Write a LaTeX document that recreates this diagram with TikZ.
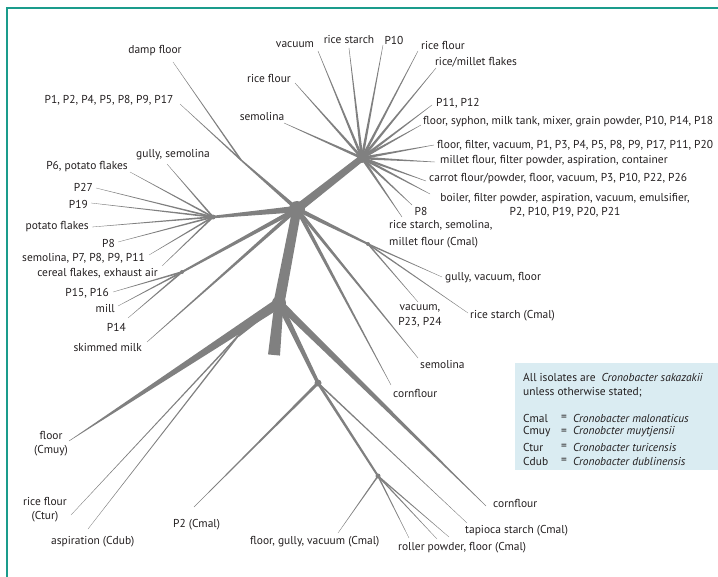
\documentclass[tikz,border=0pt]{standalone}
\usepackage{fontspec}
\setmainfont{PT Sans}
\usetikzlibrary{calc}

\definecolor{framegreen}{HTML}{1A9C8C}
\definecolor{branchgray}{HTML}{808080}
\definecolor{legendbg}{HTML}{DAECF2}
\definecolor{inkblack}{HTML}{231F20}

% tapered branch: from #1 (width #3) to #2 (width #4), widths in bp
\newcommand{\taper}[4]{%
  \fill[branchgray] ($(#1)!#3*0.5bp!90:(#2)$) -- ($(#2)!#4*0.5bp!-90:(#1)$)
    -- ($(#2)!#4*0.5bp!90:(#1)$) -- ($(#1)!#3*0.5bp!-90:(#2)$) -- cycle;}
% junction blob
\newcommand{\blob}[2]{\fill[branchgray] (#1) circle (#2bp);}

\tikzset{
  lab/.style={font=\fontsize{11.5}{14}\selectfont, text=inkblack, inner sep=0pt},
  legendline/.style={lab, anchor=west},
}

\begin{document}
\begin{tikzpicture}[x=1bp, y=-1bp]
\useasboundingbox (0,0) rectangle (718,577);

% frame
\draw[framegreen, line width=2bp] (7,577) -- (7,8) -- (718,8);

% legend panel
\fill[legendbg] (515,363) rectangle (718,470);

% ---------- junctions ----------
\coordinate (J2) at (297,209);
\coordinate (J3) at (362,158);
\coordinate (J4) at (213,217);
\coordinate (J5) at (182,272);
\coordinate (Fd) at (241,160);
\coordinate (J6) at (368,244);
\coordinate (J1) at (279,303);
\coordinate (stub) at (274,355);
\coordinate (J7) at (318,383);
\coordinate (J8) at (378,476);
\coordinate (J9) at (238,336);

% ---------- branch tips ----------
\coordinate (t3a) at (284,123);
\coordinate (t3b) at (295,83);
\coordinate (t3c) at (318,51);
\coordinate (t3d) at (349,48);
\coordinate (t3e) at (383,45);
\coordinate (t3f) at (418,51);
\coordinate (t3g) at (436,68);
\coordinate (t3h) at (432,105);
\coordinate (t3i) at (421,125);
\coordinate (t3j) at (434,145);
\coordinate (t3k) at (435,162);
\coordinate (t3l) at (426,181);
\coordinate (t3m) at (430,194);
\coordinate (t3n) at (412,205);
\coordinate (t3o) at (402,217);

\coordinate (t4a) at (167,164);
\coordinate (t4b) at (130,172);
\coordinate (t4c) at (96,188);
\coordinate (t4d) at (91,203);
\coordinate (t4e) at (92,227);
\coordinate (t4f) at (118,242);
\coordinate (t4g) at (149,255);
\coordinate (t4h) at (162,266);

\coordinate (t5a) at (113,292);
\coordinate (t5b) at (118,306);
\coordinate (t5c) at (128,318);

\coordinate (tfa) at (173,62);
\coordinate (tfb) at (180,104);

\coordinate (tskim) at (147,342);
\coordinate (tsem) at (418,358);
\coordinate (tcornA) at (391,385);

\coordinate (t6a) at (442,277);
\coordinate (t6b) at (468,313);
\coordinate (t6c) at (418,302);

\coordinate (tmuy) at (69,441);
\coordinate (tcornB) at (486,506);
\coordinate (ttur) at (71,515);
\coordinate (tdub) at (88,529);
\coordinate (tp2) at (194,507);
\coordinate (ttap) at (467,523);
\coordinate (t8a) at (338,533);
\coordinate (t8b) at (409,538);
\coordinate (t8c) at (437,539);
\coordinate (t8d) at (449,537);

% ---------- main branches ----------
\taper{J2}{J1}{9}{11}
\taper{J1}{stub}{9}{12}
\taper{J2}{J3}{8.5}{6.5}
\taper{J2}{J4}{6.5}{2.5}
\taper{J2}{J5}{4.5}{2}
\taper{J2}{Fd}{4}{1.5}
\taper{J2}{J6}{4.5}{2}
\taper{J2}{tskim}{4}{0.4}
\taper{J2}{tsem}{3.5}{0.4}
\taper{J2}{tcornA}{4}{0.4}
\taper{J1}{tmuy}{10}{0.4}
\taper{J1}{J9}{4}{2.5}
\taper{J1}{tcornB}{7.5}{0.4}
\taper{J1}{J7}{6}{3.5}
\taper{J7}{J8}{2.8}{2}
\taper{J7}{tp2}{3}{0.4}
\taper{J7}{ttap}{1.6}{0.3}

% ---------- fans ----------
\foreach \t in {t3a,t3b,t3c,t3d,t3e,t3f,t3g,t3h,t3i,t3j,t3k,t3l,t3m,t3n,t3o}
  {\taper{J3}{\t}{2.8}{0.4}}
\foreach \t in {t4a,t4b,t4c,t4d,t4e,t4f,t4g,t4h}
  {\taper{J4}{\t}{1.8}{0.3}}
\foreach \t in {t5a,t5b,t5c}
  {\taper{J5}{\t}{1.8}{0.3}}
\foreach \t in {tfa,tfb}
  {\taper{Fd}{\t}{1.6}{0.3}}
\foreach \t in {t6a,t6b,t6c}
  {\taper{J6}{\t}{1.6}{0.3}}
\foreach \t in {ttur,tdub}
  {\taper{J9}{\t}{1.6}{0.3}}
\foreach \t in {t8a,t8b,t8c,t8d}
  {\taper{J8}{\t}{1.5}{0.3}}

% ---------- junction blobs ----------
\blob{J2}{8}
\blob{J3}{5}
\blob{J1}{7}
\blob{J4}{2.5}
\blob{J5}{2}
\blob{J6}{2}
\blob{J7}{3.5}
\blob{J8}{2.5}

% ---------- labels: upper left ----------
\node[lab] (lDamp) at (155,51) {damp floor};
\node[lab] (lP1) at (109,100) {P1, P2, P4, P5, P8, P9, P17};
\node[lab] (lGully) at (173,155) {gully, semolina};
\node[lab, anchor=east] (lP6) at (128,167) {P6, potato flakes};
\node[lab, anchor=east] (lP27) at (93,187) {P27};
\node[lab, anchor=east] (lP19) at (88,204) {P19};
\node[lab, anchor=east] (lPotato) at (89,227) {potato flakes};
\node[lab, anchor=east] (lP8a) at (115,243) {P8};
\node[lab, anchor=east] (lSemP7) at (145,258) {semolina, P7, P8, P9, P11};
\node[lab, anchor=east] (lCereal) at (158,273) {cereal flakes, exhaust air};
\node[lab, anchor=east] (lP15) at (109,293) {P15, P16};
\node[lab, anchor=east] (lMill) at (115,309) {mill};
\node[lab, anchor=east] (lP14) at (126,327) {P14};
\node[lab, anchor=east] (lSkim) at (142,348) {skimmed milk};

% ---------- labels: upper fan ----------
\node[lab] (lRiceFlourL) at (269,78) {rice flour};
\node[lab] (lSemTop) at (262,117) {semolina};
\node[lab] (lVacTop) at (295,45) {vacuum};
\node[lab] (lRiceStarch) at (349,40) {rice starch};
\node[lab] (lP10) at (394,40) {P10};
\node[lab] (lRiceFlourR) at (443,45) {rice flour};
\node[lab] (lMilletFl) at (476,62) {rice/millet flakes};
\node[lab, anchor=west] (lP11) at (436,103) {P11, P12};
\node[lab, anchor=west] (lSyphon) at (423,122) {floor, syphon, milk tank, mixer, grain powder, P10, P14, P18};
\node[lab, anchor=west] (lFilter) at (437,145) {floor, filter, vacuum, P1, P3, P4, P5, P8, P9, P17, P11, P20};
\node[lab, anchor=west] (lMillet) at (440,161) {millet flour, filter powder, aspiration, container};
\node[lab, anchor=west] (lCarrot) at (429,179) {carrot flour/powder, floor, vacuum, P3, P10, P22, P26};
\node[lab, align=center] (lBoiler) at (565,205) {boiler, filter powder, aspiration, vacuum, emulsifier,\\P2, P10, P19, P20, P21};
\node[lab] (lP8b) at (421,211) {P8};
\node[lab, align=left, anchor=west] (lRSCmal) at (389,234) {rice starch, semolina,\\[3bp]millet flour (Cmal)};

% ---------- labels: right middle ----------
\node[lab, anchor=west] (lGVF) at (445,278) {gully, vacuum, floor};
\node[lab, anchor=west] (lRSC) at (470,316) {rice starch (Cmal)};
\node[lab, align=center] (lVac23) at (420,316) {vacuum,\\[1.5bp]P23, P24};
\node[lab, anchor=west] (lSemMid) at (420,365) {semolina};
\node[lab, anchor=west] (lCornA) at (393,393) {cornflour};

% ---------- labels: bottom ----------
\node[lab, align=center] (lMuy) at (51,444) {floor\\(Cmuy)};
\node[lab, align=center] (lTur) at (45,510) {rice flour\\(Ctur)};
\node[lab, anchor=west] (lDub) at (51,542) {aspiration (Cdub)};
\node[lab, anchor=west] (lP2) at (173,525) {P2 (Cmal)};
\node[lab, anchor=west] (lFGV) at (250,542) {floor, gully, vacuum (Cmal)};
\node[lab, anchor=west] (lRoller) at (398,548) {roller powder, floor (Cmal)};
\node[lab, anchor=west] (lTapioca) at (465,531) {tapioca starch (Cmal)};
\node[lab, anchor=west] (lCornB) at (493,503) {cornflour};

% ---------- legend text ----------
\node[legendline] (g1) at (523,377) {All isolates are\hspace{3bp} \textit{Cronobacter sakazakii}};
\node[legendline] (g2) at (523,392) {unless otherwise stated;};
\foreach \ab/\sp/\yy [count=\i] in {Cmal/Cronobacter malonaticus/418,
    Cmuy/Cronobcter muytjensii/432,
    Ctur/Cronobacter turicensis/447,
    Cdub/Cronobacter dublinensis/461}{
  \node[legendline] (ga\i) at (523,\yy) {\ab};
  \node[lab] (ge\i) at (564,\yy) {=};
  \node[legendline] (gs\i) at (573,\yy) {\textit{\sp}};
}
\end{tikzpicture}
\end{document}
